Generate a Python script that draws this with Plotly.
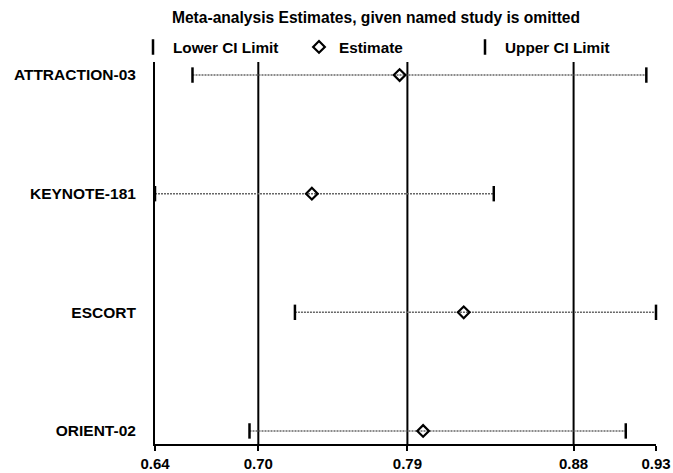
import plotly.graph_objects as go

studies = ["ATTRACTION-03", "KEYNOTE-181", "ESCORT", "ORIENT-02"]
estimate = [0.7816, 0.7308, 0.8187, 0.7952]
lower_ci = [0.6617, 0.6400, 0.7210, 0.6947]
upper_ci = [0.9244, 0.8361, 0.9300, 0.9125]
overall = [0.6998, 0.7861, 0.8823]  # overall lower CI, estimate, upper CI
tick_vals = [0.6400, 0.6998, 0.7861, 0.8823, 0.9300]
tick_text = ["0.64", "0.70", "0.79", "0.88", "0.93"]

FONT = "Liberation Sans, Arial, sans-serif"
W, H = 673, 473
L, R, T, B = 155, 17, 62, 29
pw, ph = W - L - R, H - T - B

fig = go.Figure()

# dotted CI lines
for s, lo, hi in zip(studies, lower_ci, upper_ci):
    fig.add_trace(go.Scatter(
        x=[lo, hi], y=[s, s], mode="lines",
        line=dict(color="#666666", width=1.4, dash="2px,1px"),
        showlegend=False, hoverinfo="skip", cliponaxis=False))

fig.add_trace(go.Scatter(
    x=lower_ci, y=studies, mode="markers", name="Lower CI Limit",
    marker=dict(symbol="line-ns", size=11, line=dict(color="black", width=2.5)),
    cliponaxis=False))
fig.add_trace(go.Scatter(
    x=estimate, y=studies, mode="markers", name="Estimate",
    marker=dict(symbol="diamond-open", size=9, color="black",
                line=dict(color="black", width=2.2)),
    cliponaxis=False))
fig.add_trace(go.Scatter(
    x=upper_ci, y=studies, mode="markers", name="Upper CI Limit",
    marker=dict(symbol="line-ns", size=11, line=dict(color="black", width=2.5)),
    cliponaxis=False))

for v in overall:
    fig.add_shape(type="line", xref="x", yref="y domain", x0=v, x1=v, y0=0, y1=1,
                  line=dict(color="black", width=2), layer="below")

fig.update_layout(
    width=W, height=H,
    margin=dict(l=L, r=R, t=T, b=B, autoexpand=False),
    paper_bgcolor="white", plot_bgcolor="white",
    font=dict(family=FONT, size=15, color="black"),
    title=dict(text="<b>Meta-analysis Estimates, given named study is omitted</b>",
               x=376 / W, xanchor="center",
               y=1 - 18 / H, yanchor="middle",
               font=dict(family=FONT, size=15.6, color="black")),
    legend=dict(orientation="h", x=(133 - L) / pw, xanchor="left",
                y=(H - B - 47) / ph, yanchor="middle",
                font=dict(family=FONT, size=15.3, color="black", weight="bold"),
                entrywidth=121, bgcolor="rgba(0,0,0,0)"),
    xaxis=dict(range=[0.64, 0.93], tickvals=tick_vals, ticktext=tick_text,
               showgrid=False, zeroline=False, showline=True, linecolor="black",
               linewidth=2, ticks="outside", ticklen=5, tickwidth=2, tickcolor="black",
               automargin=False,
               tickfont=dict(family=FONT, size=15, color="black", weight="bold")),
    yaxis=dict(type="category", categoryorder="array",
               categoryarray=studies[::-1], range=[-0.11, 3.11],
               showgrid=False, zeroline=False, showline=True, linecolor="black",
               linewidth=2, ticks="", ticklabelstandoff=14, automargin=False,
               tickfont=dict(family=FONT, size=15.5, color="black", weight="bold")),
)

fig.write_html("out.html", config={"displayModeBar": False},
               post_script="document.body.style.margin='0';document.body.style.padding='0';")
